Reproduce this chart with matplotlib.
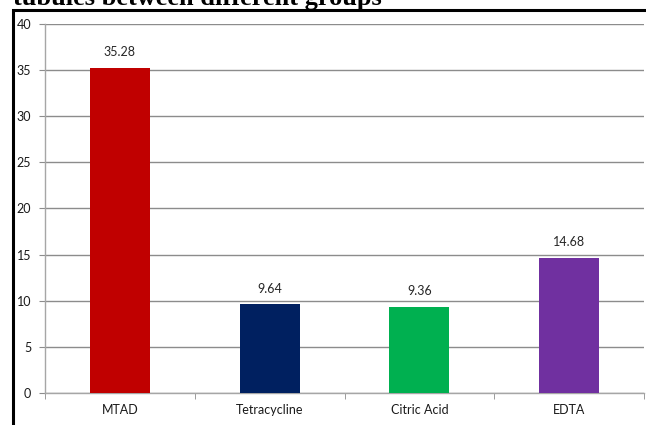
import matplotlib.pyplot as plt
from matplotlib.patches import Rectangle

groups = ['MTAD', 'Tetracycline', 'Citric Acid', 'EDTA']
values = [35.28, 9.64, 9.36, 14.68]
bar_colors = ['#C00000', '#002060', '#00B050', '#7030A0']
yticks = [0, 5, 10, 15, 20, 25, 30, 35, 40]

plt.rcParams['font.family'] = ['Lato', 'DejaVu Sans']

fig = plt.figure(figsize=(6.46, 4.25), dpi=100)
W, H = 646, 425

# outer frame of the figure panel
fig.patches.append(Rectangle((13.5 / W, -0.1), 1.2, (425 - 10.5) / H + 0.1,
                             transform=fig.transFigure, fill=False,
                             edgecolor='black', linewidth=2.2, zorder=0))

# caption line, clipped at the top edge
fig.text(13 / W, 1.0 + 2 / H, 'tubules between different groups',
         fontfamily='Liberation Serif', fontweight='bold', fontsize=19,
         va='center', ha='left', color='black')

ax = fig.add_axes([45 / W, 32 / H, 599 / W, 369 / H])
x = range(len(groups))
bars = ax.bar(x, values, width=0.4, color=bar_colors, zorder=3)

for xi, v in zip(x, values):
    ax.text(xi, v + 1.0, f'{v:.2f}', ha='center', va='bottom',
            fontsize=9, color='#262626', zorder=4)

ax.set_xlim(-0.5, len(groups) - 0.5)
ax.set_ylim(0, 40)
ax.set_yticks(yticks)
ax.yaxis.grid(True, color='#8c8c8c', linewidth=1.0, zorder=0)
ax.set_axisbelow(True)

ax.set_xticks(x)
ax.set_xticklabels(groups)
ax.set_xticks([i + 0.5 for i in range(-1, len(groups))], minor=True)
ax.tick_params(axis='x', which='major', length=0, pad=8, labelsize=9, labelcolor='#1a1a1a')
ax.tick_params(axis='x', which='minor', length=4, color='#8c8c8c', direction='out')
ax.tick_params(axis='y', length=4, color='#8c8c8c', labelsize=9, labelcolor='#1a1a1a', pad=6)

for side in ['top', 'right']:
    ax.spines[side].set_visible(False)
for side in ['left', 'bottom']:
    ax.spines[side].set_color('#a6a6a6')
    ax.spines[side].set_linewidth(1.0)

fig.savefig('out.png', dpi=100)
